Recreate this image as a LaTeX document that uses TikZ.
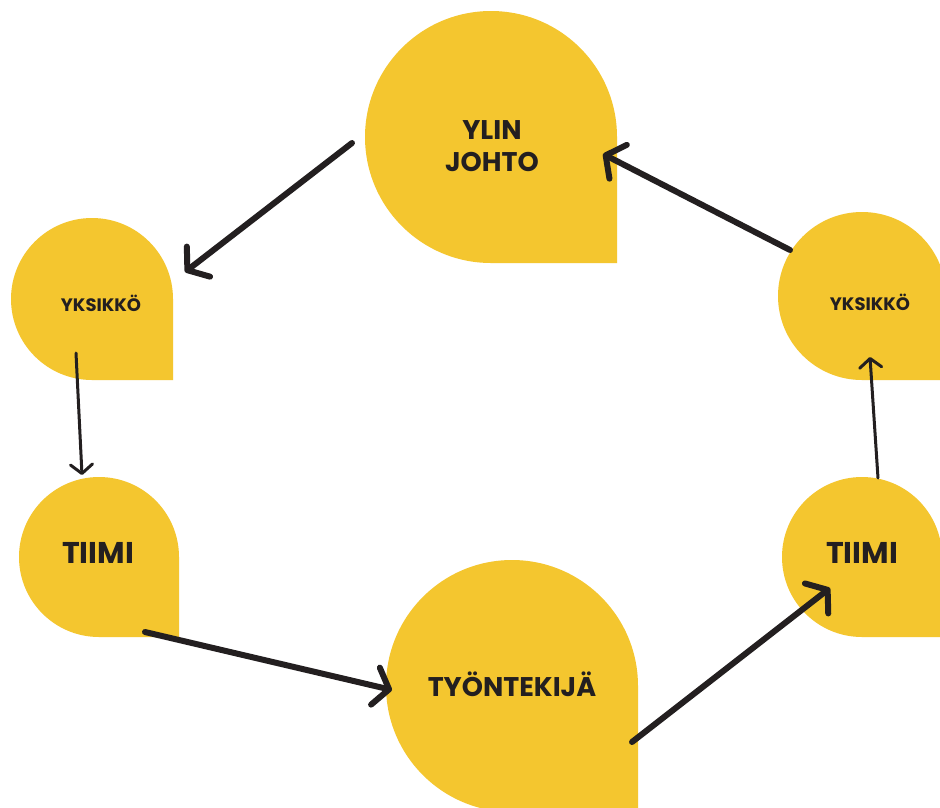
\documentclass[tikz,border=0pt]{standalone}
\usepackage{fontspec}
\setmainfont{Poppins}
\usetikzlibrary{arrows.meta}
\definecolor{dropyellow}{HTML}{F4C62F}
\definecolor{inkdark}{HTML}{231F20}
\tikzset{
  dropfill/.style={fill=dropyellow},
  label/.style={text=inkdark, align=center, inner sep=0pt},
  bigarrow/.style={draw=inkdark, line width=6pt, line cap=round, line join=round,
    -{Straight Barb[length=14pt, width=38pt, line width=6pt, round]}},
  smallarrow/.style={draw=inkdark, line width=3pt, line cap=round, line join=round,
    -{Straight Barb[length=9pt, width=22pt, line width=3pt, round]}}
}
% teardrop: centre x, centre y (pixels, y downward), radius
\newcommand\teardrop[3]{%
  \fill[dropfill] ({#1+#3},{-(#2+#3)}) -- ({#1+#3},{-#2})
    arc[start angle=0, end angle=270, radius=#3] -- cycle;}
\begin{document}
\begin{tikzpicture}[x=1pt,y=1pt]
\useasboundingbox (0,0) rectangle (940,-807);
\clip (0,0) rectangle (940,-807);
\fill[white] (0,0) rectangle (940,-807);
% shapes
\teardrop{491}{137}{126}
\teardrop{92}{299}{81}
\teardrop{862}{296}{84}
\teardrop{99}{557}{80}
\teardrop{862}{557}{80}
\teardrop{512}{686}{126}
% labels
\node[label, font=\bfseries\fontsize{27}{32}\selectfont] (top) at (492,-146) {YLIN\\JOHTO};
\node[label, font=\bfseries\fontsize{18}{20}\selectfont] (ul) at (101,-303) {YKSIKKÖ};
\node[label, font=\bfseries\fontsize{18}{20}\selectfont] (ur) at (870,-302) {YKSIKKÖ};
\node[label, font=\bfseries\fontsize{30}{34}\selectfont] (tl) at (98,-553) {TIIMI};
\node[label, font=\bfseries\fontsize{30}{34}\selectfont] (tr) at (862,-553) {TIIMI};
\node[label, font=\bfseries\fontsize{27}{32}\selectfont] (bot) at (512,-684) {TYÖNTEKIJÄ};
% arrow end points
\coordinate (a1s) at (352,-143);
\coordinate (a1e) at (185,-272);
\coordinate (a2s) at (76,-353);
\coordinate (a2e) at (82,-475);
\coordinate (a3s) at (145,-632);
\coordinate (a3e) at (392,-690);
\coordinate (a4s) at (632,-742);
\coordinate (a4e) at (830,-588);
\coordinate (a5s) at (878,-478);
\coordinate (a5e) at (870,-357);
\coordinate (a6s) at (790,-250);
\coordinate (a6e) at (603,-154);
% arrows
\draw[bigarrow] (a1s) -- (a1e);
\draw[smallarrow] (a2s) -- (a2e);
\draw[bigarrow] (a3s) -- (a3e);
\draw[bigarrow] (a4s) -- (a4e);
\draw[smallarrow] (a5s) -- (a5e);
\draw[bigarrow] (a6s) -- (a6e);
\end{tikzpicture}
\end{document}
